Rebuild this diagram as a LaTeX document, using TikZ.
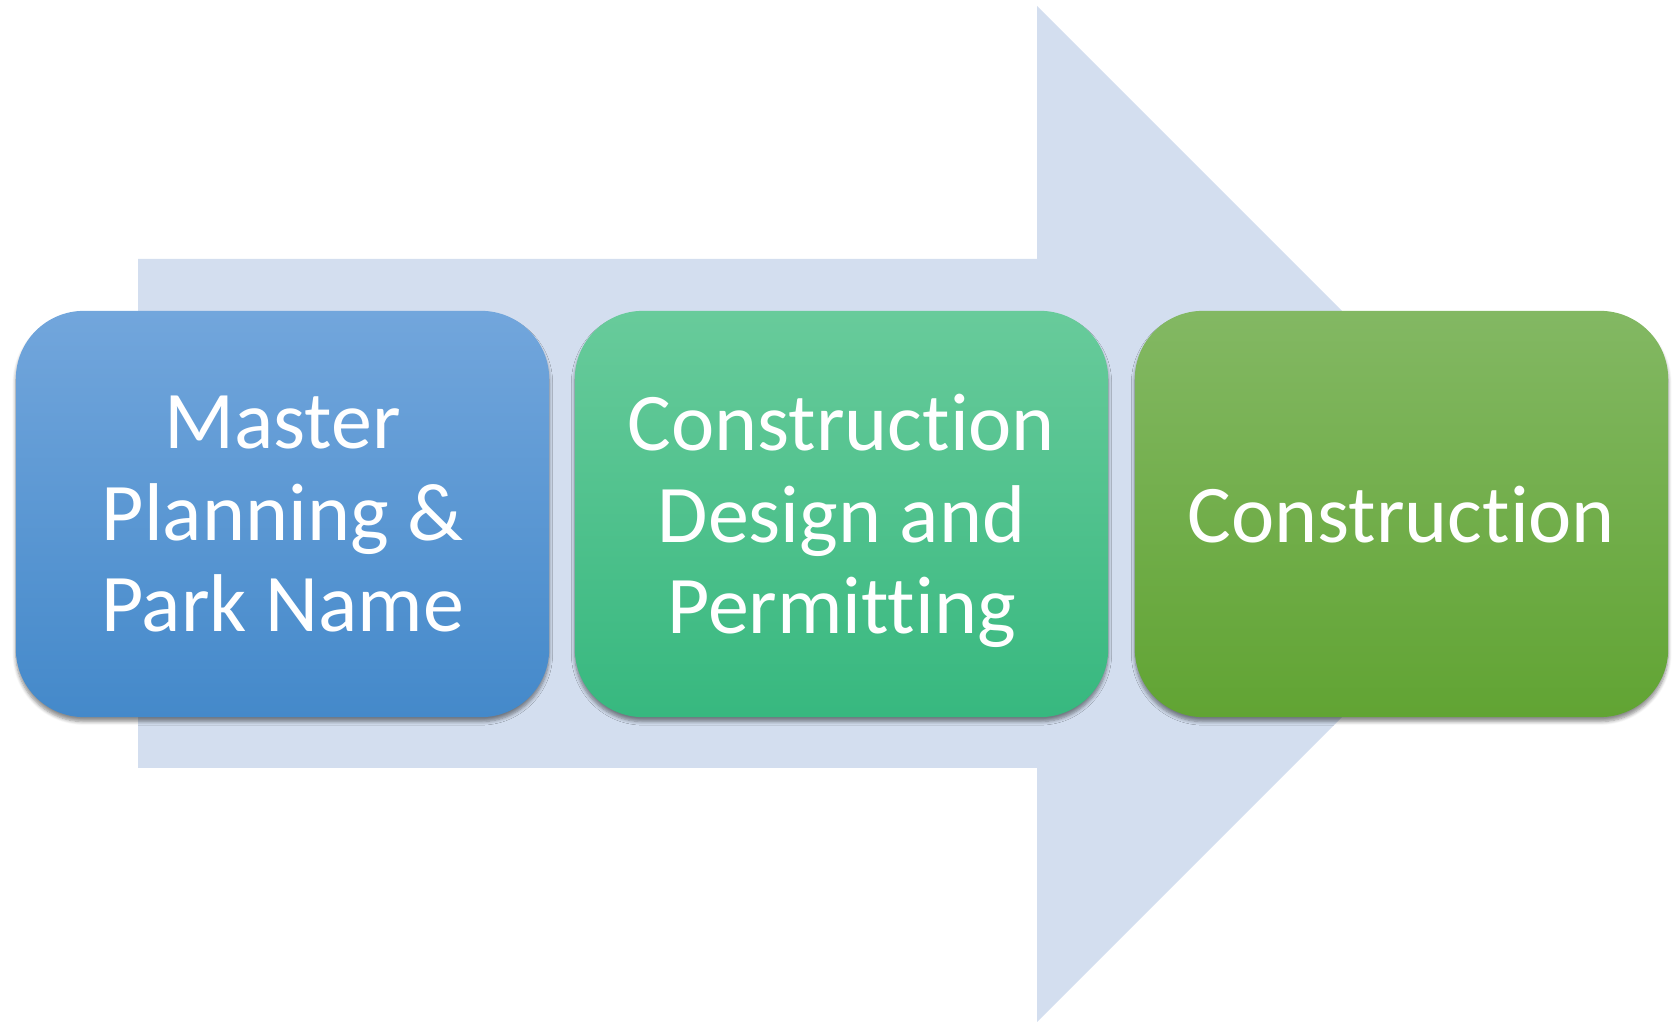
\documentclass[tikz,border=0pt]{standalone}
\usepackage{fontspec}
\setmainfont{Carlito}[Ligatures=NoCommon]
\usetikzlibrary{shadows.blur}

\definecolor{arrowbg}{HTML}{D3DEEF}
\definecolor{bluetop}{HTML}{72A6DC}
\definecolor{bluebot}{HTML}{4489CA}
\definecolor{tealtop}{HTML}{68CB9B}
\definecolor{tealbot}{HTML}{37B87F}
\definecolor{greentop}{HTML}{83B863}
\definecolor{greenbot}{HTML}{61A433}

\tikzset{
  stage/.style={rectangle, rounded corners=0.68cm, minimum width=5.33cm,
    minimum height=4.06cm, inner sep=0pt, align=center, text=white,
    text depth=0pt, font=\fontsize{23.3}{26}\selectfont,
    blur shadow={shadow xshift=0cm, shadow yshift=-0.045cm,
      shadow blur radius=0.035cm, shadow blur steps=6, shadow opacity=45}},
}

\begin{document}
\begin{tikzpicture}[x=0.01cm, y=0.01cm]
		\useasboundingbox (0,0) rectangle (1679,1022);
		
		% Big background arrow
		\coordinate (tail top) at (138,763);
		\coordinate (tail bot) at (138,254);
		\coordinate (neck top) at (1037,763);
		\coordinate (neck bot) at (1037,254);
		\coordinate (barb top) at (1037,1016);
		\coordinate (barb bot) at (1037,0);
		\coordinate (tip) at (1545,508);
		\fill[arrowbg] (tail bot) -- (tail top) -- (neck top) -- (barb top) -- (tip)
			-- (barb bot) -- (neck bot) -- cycle;
		
		% Stages
		\node[stage, top color=bluetop, bottom color=bluebot] (master) at (282.5,508)
			{Master\\Planning \&\\Park Name};
		\node[stage, top color=tealtop, bottom color=tealbot] (design) at (841.5,508)
			{Construction\\Design and\\Permitting};
		\node[stage, top color=greentop, bottom color=greenbot] (build) at (1401.5,508)
			{Construction};
		
	\end{tikzpicture}
\end{document}
